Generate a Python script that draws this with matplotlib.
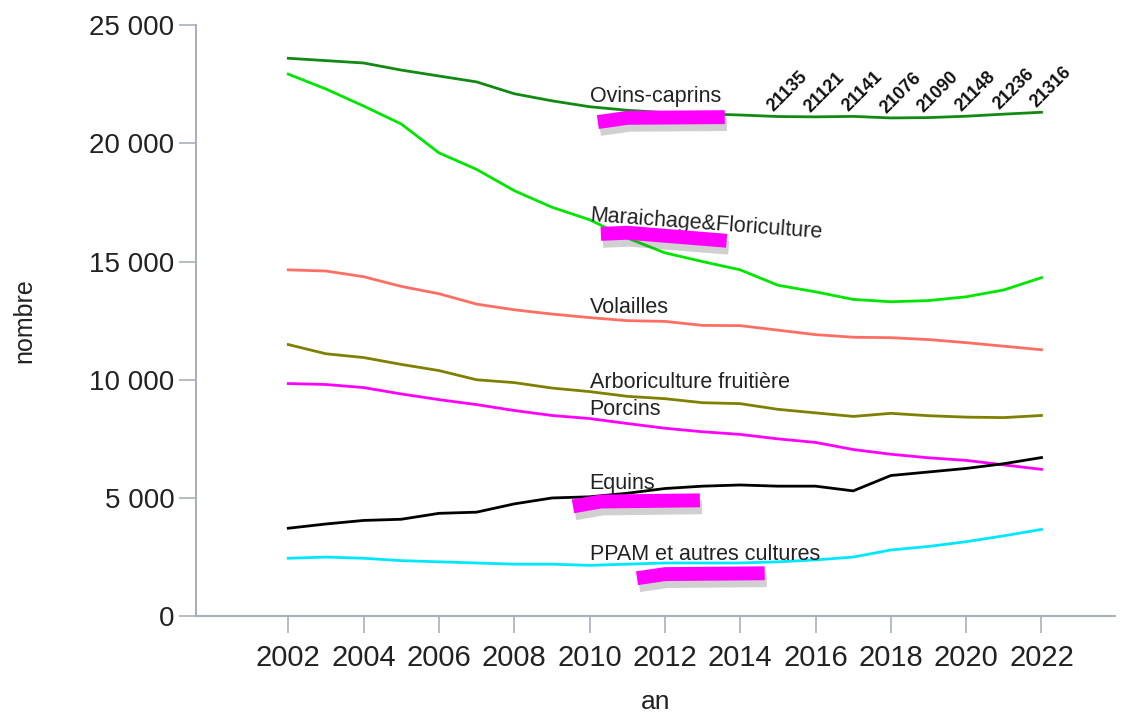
import numpy as np
import matplotlib
matplotlib.use("Agg")
import matplotlib.pyplot as plt
import matplotlib.patheffects as pe

years = list(range(2002, 2023))

ovins = [23600, 23500, 23400, 23100, 22850, 22600, 22100, 21800, 21550, 21400, 21300,
         21250, 21200, 21135, 21121, 21141, 21076, 21090, 21148, 21236, 21316]
maraichage = [22930, 22300, 21580, 20820, 19600, 18900, 18000, 17300, 16770, 16000, 15370,
              15000, 14650, 14000, 13720, 13400, 13300, 13350, 13510, 13800, 14320]
volailles = [14650, 14600, 14360, 13950, 13640, 13200, 12960, 12780, 12630, 12500, 12470,
             12300, 12290, 12100, 11910, 11800, 11780, 11700, 11570, 11420, 11270]
arbo = [11490, 11100, 10940, 10650, 10390, 10000, 9880, 9650, 9500, 9300, 9200,
        9030, 8990, 8750, 8600, 8450, 8580, 8480, 8420, 8400, 8490]
porcins = [9840, 9800, 9670, 9400, 9160, 8950, 8700, 8490, 8360, 8150, 7950,
           7800, 7690, 7500, 7350, 7050, 6850, 6700, 6590, 6400, 6210]
equins = [3720, 3900, 4050, 4100, 4350, 4400, 4750, 5000, 5050, 5200, 5400,
          5500, 5550, 5500, 5500, 5300, 5950, 6100, 6250, 6450, 6710]
ppam = [2450, 2500, 2450, 2350, 2300, 2250, 2200, 2200, 2150, 2200, 2250,
        2250, 2250, 2300, 2380, 2500, 2800, 2950, 3150, 3400, 3670]

series = [
    ("Ovins-caprins", ovins, "#118a11", 22000, 0),
    ("Maraichage&Floriculture", maraichage, "#00e600", 16950, -4.2),
    ("Volailles", volailles, "#ff6e63", 13050, 0),
    ("Arboriculture fruitière", arbo, "#808000", 9900, 0),
    ("Porcins", porcins, "#ff00ff", 8750, 0),
    ("Equins", equins, "#000000", 5600, 0),
    ("PPAM et autres cultures", ppam, "#00e8ff", 2600, 0),
]

# marker strokes drawn over the chart (x in years, y in values)
highlights = [
    ([2010.22, 2011.0, 2013.59], [20900, 21080, 21110]),
    ([2010.30, 2011.0, 2013.64], [16170, 16220, 15880]),
    ([2009.56, 2010.3, 2012.93], [4645, 4850, 4900]),
    ([2011.26, 2012.0, 2014.65], [1605, 1780, 1815]),
]

fig = plt.figure(figsize=(11.22, 7.19), dpi=100)
ax = fig.add_axes([0.1747, 0.143, 0.819, 0.822])

for name, vals, color, ty, rot in series:
    ax.plot(years, vals, color=color, lw=2.0)
    ax.text(2010, ty, name, fontsize=15.5, color="#222222", rotation=rot,
            rotation_mode="anchor", ha="left", va="center",
            family=["Liberation Sans", "DejaVu Sans"])

# value labels on the last years of Ovins-caprins
for yr, v in zip(years[13:], ovins[13:]):
    ax.text(yr - 0.05, v + 60, str(v), fontsize=13, fontweight="bold", rotation=45,
            rotation_mode="anchor", ha="left", va="bottom", color="#111111",
            family=["Liberation Sans", "DejaVu Sans"])

for hx, hy in highlights:
    ax.plot(hx, hy, color="#ff00ff", lw=10, solid_capstyle="butt", zorder=5,
            path_effects=[pe.SimpleLineShadow(offset=(1.5, -5), alpha=0.25, shadow_color="#444444"),
                          pe.Normal()])

ax.set_xlim(1999.55, 2023.95)
ax.set_ylim(0, 25000)
ax.set_xticks(range(2002, 2023, 2))
ax.set_yticks(range(0, 25001, 5000))
ax.set_yticklabels(["0", "5 000", "10 000", "15 000", "20 000", "25 000"],
                   family=["Liberation Sans", "DejaVu Sans"], fontsize=20, color="#222222")
ax.set_xticklabels([str(y) for y in range(2002, 2023, 2)],
                   family=["Liberation Sans", "DejaVu Sans"], fontsize=21, color="#222222")

for s in ["top", "right"]:
    ax.spines[s].set_visible(False)
for s in ["left", "bottom"]:
    ax.spines[s].set_color("#a9b0b6")
    ax.spines[s].set_linewidth(1.5)
ax.tick_params(axis="both", color="#a9b0b6", width=1.2, length=12)
ax.tick_params(axis="x", pad=8)

ax.set_xlabel("an", fontsize=19, family=["Liberation Sans", "DejaVu Sans"],
              color="#222222", labelpad=13)
ax.set_ylabel("nombre", fontsize=18, family=["Liberation Sans", "DejaVu Sans"],
              color="#222222", labelpad=38)

fig.savefig("out.png", dpi=100)
